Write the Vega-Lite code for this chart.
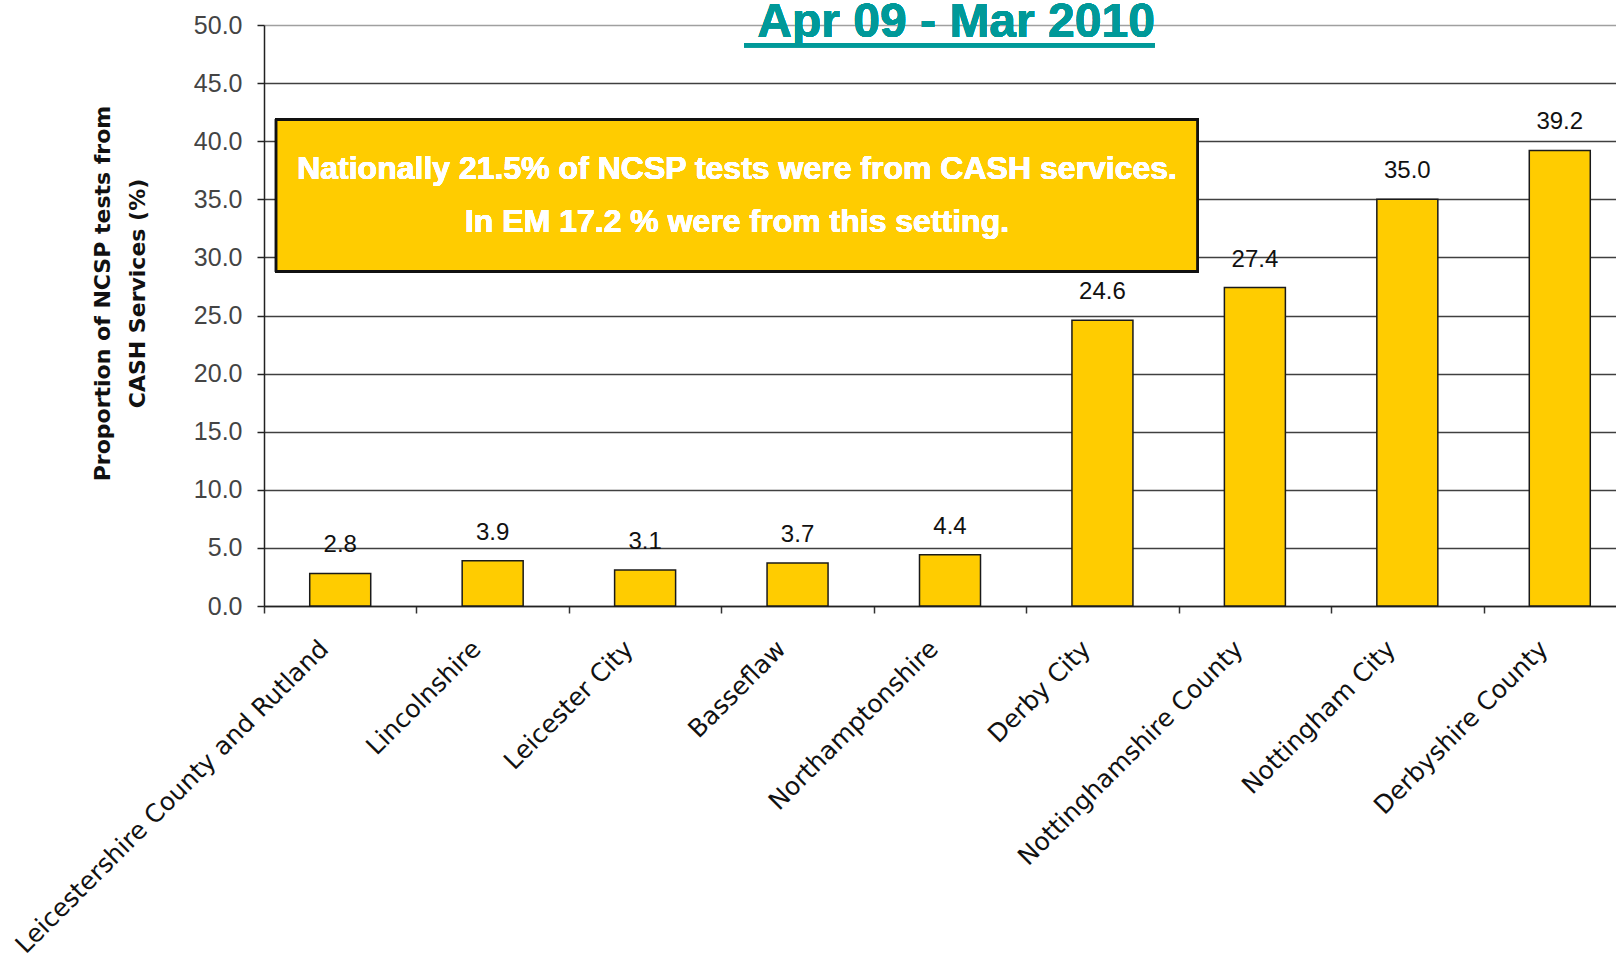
{
  "$schema": "https://vega.github.io/schema/vega-lite/v6.json",
  "width": 1372,
  "height": 581,
  "autosize": {"type": "none"},
  "padding": {"left": 264, "top": 25, "right": 0, "bottom": 347},
  "background": "white",
  "config": {"view": {"stroke": null}},
  "data": {
    "values": [
      {"area": "Leicestershire County and Rutland", "pct": 2.8},
      {"area": "Lincolnshire", "pct": 3.9},
      {"area": "Leicester City", "pct": 3.1},
      {"area": "Basseflaw", "pct": 3.7},
      {"area": "Northamptonshire", "pct": 4.4},
      {"area": "Derby City", "pct": 24.6},
      {"area": "Nottinghamshire County", "pct": 27.4},
      {"area": "Nottingham City", "pct": 35.0},
      {"area": "Derbyshire County", "pct": 39.2}
    ]
  },
  "layer": [
    {
      "mark": {"type": "bar", "fill": "#FFCC00", "stroke": "#1a1a1a", "strokeWidth": 1.5, "width": 61},
      "encoding": {
        "x": {
          "field": "area", "type": "nominal", "sort": null,
          "scale": {"paddingInner": 0, "paddingOuter": 0},
          "axis": {
            "title": null, "labelAngle": -45, "labelFont": "DejaVu Sans", "labelFontSize": 25,
            "labelColor": "#111111", "labelLimit": 0, "labelPadding": 23, "labelOffset": -25,
            "tickBand": "extent", "tickSize": 7, "tickColor": "#333333", "tickWidth": 1.5,
            "domainColor": "#222222", "domainWidth": 1.5, "grid": false
          }
        },
        "y": {
          "field": "pct", "type": "quantitative",
          "scale": {"domain": [0, 50], "nice": false},
          "axis": {
            "title": ["Proportion of NCSP tests from", "CASH Services (%)"],
            "values": [0, 5, 10, 15, 20, 25, 30, 35, 40, 45, 50],
            "format": ".1f",
            "labelFont": "Liberation Sans", "labelFontSize": 25, "labelColor": "#444444",
            "labelPadding": 15, "tickSize": 7, "tickColor": "#222222", "tickWidth": 1.5,
            "domainColor": "#222222", "domainWidth": 1.5,
            "grid": true,
            "gridColor": {"condition": {"test": "datum.value === 50", "value": "#a0a0a0"}, "value": "#404040"},
            "gridWidth": 1.3,
            "titleFont": "DejaVu Sans", "titleFontWeight": "bold", "titleFontSize": 22,
            "titleColor": "#111111", "titleLineHeight": 35, "titleY": 268, "titlePadding": 44
          }
        }
      }
    },
    {
      "mark": {"type": "text", "font": "Liberation Sans", "fontSize": 24, "color": "#111111", "baseline": "alphabetic", "dy": -21},
      "encoding": {
        "x": {"field": "area", "type": "nominal", "sort": null},
        "y": {"field": "pct", "type": "quantitative"},
        "text": {"field": "pct", "type": "quantitative", "format": ".1f"}
      }
    },
    {
      "mark": {"type": "rect", "fill": "#FFCC00", "stroke": "#111111", "strokeWidth": 2.5},
      "encoding": {
        "x": {"datum": "Leicestershire County and Rutland", "type": "nominal", "bandPosition": 0.08},
        "x2": {"datum": "Nottinghamshire County", "bandPosition": 0.123},
        "y": {"datum": 41.85, "type": "quantitative"},
        "y2": {"datum": 28.81}
      }
    },
    {
      "mark": {"type": "text", "font": "Liberation Sans", "fontWeight": "bold", "fontSize": 32, "color": "white", "baseline": "alphabetic", "align": "center"},
      "encoding": {
        "x": {"datum": "Basseflaw", "type": "nominal", "bandPosition": 0.103},
        "y": {"datum": 36.79, "type": "quantitative"},
        "text": {"value": "Nationally 21.5% of NCSP tests were from CASH services."}
      }
    },
    {
      "mark": {"type": "text", "font": "Liberation Sans", "fontWeight": "bold", "fontSize": 32, "color": "white", "baseline": "alphabetic", "align": "center"},
      "encoding": {
        "x": {"datum": "Basseflaw", "type": "nominal", "bandPosition": 0.103},
        "y": {"datum": 32.2, "type": "quantitative"},
        "text": {"value": "In EM 17.2 % were from this setting."}
      }
    },
    {
      "mark": {"type": "text", "font": "Liberation Sans", "fontWeight": "bold", "fontSize": 48, "color": "#009999", "baseline": "alphabetic", "align": "center"},
      "encoding": {
        "x": {"datum": "Northamptonshire", "type": "nominal", "bandPosition": 0.54},
        "y": {"datum": 48.94, "type": "quantitative"},
        "text": {"value": " Apr 09 - Mar 2010"}
      }
    },
    {
      "mark": {"type": "rule", "color": "#009999", "strokeWidth": 4},
      "encoding": {
        "x": {"datum": "Basseflaw", "type": "nominal", "bandPosition": 0.149},
        "x2": {"datum": "Derby City", "bandPosition": 0.844},
        "y": {"datum": 48.25, "type": "quantitative"}
      }
    }
  ]
}
